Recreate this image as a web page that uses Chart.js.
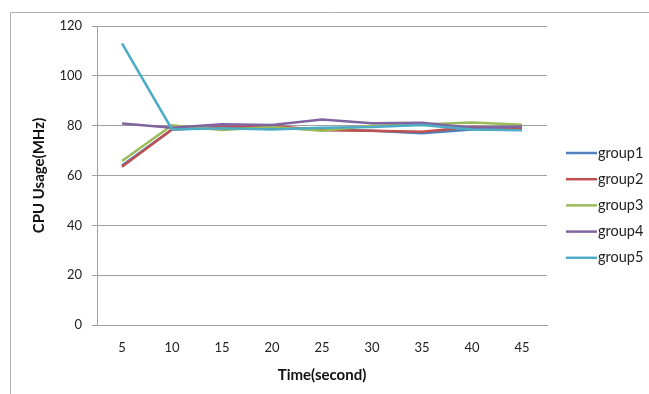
<!DOCTYPE html>
<html><head><meta charset="utf-8">
<script src="https://cdn.jsdelivr.net/npm/chart.js@4/dist/chart.umd.min.js"></script>
<style>html,body{margin:0;padding:0;background:#fff}#wrap{width:649px;height:394px}</style>
</head><body><div id="wrap"><canvas id="c" width="649" height="394"></canvas></div>
<script>
const categories = ['5','10','15','20','25','30','35','40','45'];
const group1 = [64, 78.5, 79.5, 79, 78.6, 78, 77, 78.5, 78.8];
const group2 = [63.5, 78.5, 79.5, 80, 78.2, 78, 77.6, 79.5, 79.1];
const group3 = [65.8, 80.2, 78.3, 79.5, 78, 80, 80.5, 81.3, 80.4];
const group4 = [80.9, 79.2, 80.6, 80.3, 82.5, 81, 81.2, 79.2, 79.7];
const group5 = [113, 78.5, 79, 78.5, 79.2, 79.5, 80.3, 78.5, 78.2];
const seriesNames = ['group1','group2','group3','group4','group5'];
const seriesData = [group1, group2, group3, group4, group5];
const colors = ['#4F81BD','#C0504D','#9BBB59','#8064A2','#4BACC6'];
const yTicks = [0,20,40,60,80,100,120];

const FONT = 'Lato, "Liberation Sans", sans-serif';

const frame = {
  id:'frame',
  afterDraw(chart){
    const ctx = chart.ctx;
    ctx.save();
    ctx.strokeStyle = '#b0b0b0';
    ctx.lineWidth = 1;
    ctx.beginPath();
    ctx.moveTo(10.5, 394); ctx.lineTo(10.5, 12.5); ctx.lineTo(649, 12.5);
    ctx.stroke();
    // legend
    ctx.font = '14.5px ' + FONT;
    ctx.textBaseline = 'middle';
    ctx.fillStyle = '#222';
    chart.data.datasets.forEach((ds, i) => {
      const y = 153 + i * 26.2;
      ctx.strokeStyle = ds.borderColor;
      ctx.lineWidth = 2.5;
      ctx.beginPath(); ctx.moveTo(566, y); ctx.lineTo(597, y); ctx.stroke();
      ctx.fillText(ds.label, 598, y);
    });
    ctx.restore();
  }
};

new Chart(document.getElementById('c'), {
  type:'line',
  data:{
    labels: categories,
    datasets: seriesNames.map((n,i)=>({
      label:n, data:seriesData[i], borderColor:colors[i], backgroundColor:colors[i],
      borderWidth:2.5, pointRadius:0, tension:0, fill:false, order:5-i
    }))
  },
  options:{
    responsive:false, animation:false,
    layout:{padding:{left:0, top:26, right:102, bottom:10}},
    plugins:{legend:{display:false}, tooltip:{enabled:false}},
    scales:{
      x:{
        offset:true,
        grid:{display:false, drawTicks:false},
        border:{display:true, color:'#a0a0a0', width:1},
        ticks:{font:{family:FONT,size:13}, color:'#222', padding:15, maxRotation:0},
        title:{display:true, text:'Time(second)', font:{family:FONT,size:15,weight:'bold'}, color:'#111', padding:{top:0,bottom:0}},
        afterFit(s){ s.height = 59; }
      },
      y:{
        min:0, max:120,
        afterBuildTicks(s){ s.ticks = yTicks.map(v=>({value:v})); },
        grid:{color:'#a0a0a0', lineWidth:1, drawTicks:true, tickLength:5},
        border:{display:true, color:'#a0a0a0', width:1},
        ticks:{font:{family:FONT,size:13}, color:'#222', padding:10},
        title:{display:true, text:'CPU Usage(MHz)', font:{family:FONT,size:15,weight:'bold'}, color:'#111', padding:{top:30,bottom:0}},
        afterFit(s){ s.width = 97; }
      }
    }
  },
  plugins:[frame]
});
</script></body></html>
